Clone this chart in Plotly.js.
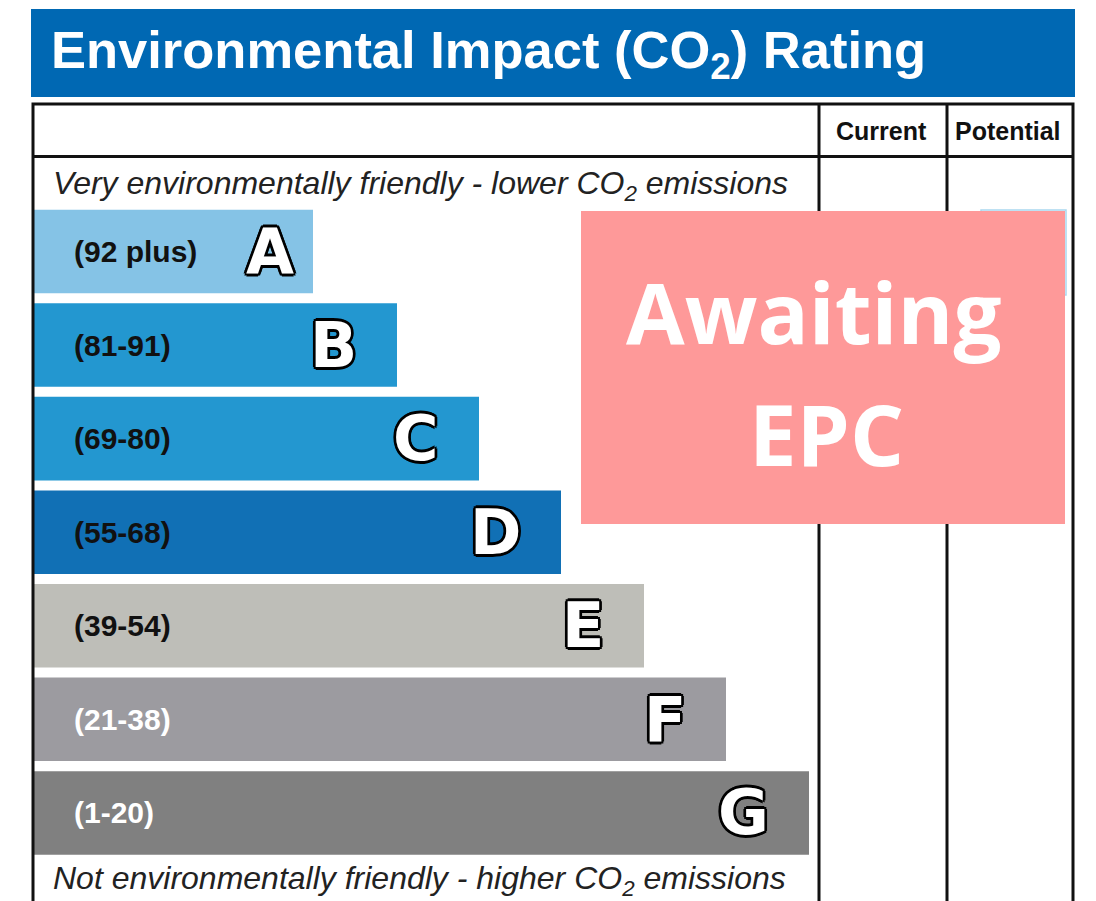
<!DOCTYPE html>
<html>
<head>
<meta charset="utf-8">
<script src="https://cdn.plot.ly/plotly-3.0.1.min.js"></script>
<style>
  html, body { margin: 0; padding: 0; background: #ffffff; }
  #chart { width: 1096px; height: 901px; }
</style>
</head>
<body>
<div id="chart"></div>
<script>
// ---- data ----
const bands = ['A', 'B', 'C', 'D', 'E', 'F', 'G'];
const scoreRanges = ['(92 plus)', '(81-91)', '(69-80)', '(55-68)', '(39-54)', '(21-38)', '(1-20)'];
const barLengths = [280, 364, 446, 528, 611, 693, 776];
const columnHeaders = ['Current', 'Potential'];
const chartTitle = 'Environmental Impact (CO<sub>2</sub>) Rating';
const topNote = 'Very environmentally friendly - lower CO<sub>2</sub> emissions';
const bottomNote = 'Not environmentally friendly - higher CO<sub>2</sub> emissions';
const overlayLines = ['Awaiting', 'EPC'];

// ---- style ----
const barColors = ['#85C3E6', '#2397D0', '#2397D0', '#1170B5', '#BEBEB8', '#9C9BA0', '#808080'];
const labelColors = ['#111111', '#111111', '#111111', '#111111', '#111111', '#ffffff', '#ffffff'];
const W = 1096, H = 901;
const px = v => v / W;
const py = v => 1 - v / H;
const ARIAL = 'Liberation Sans, Arial, sans-serif';
const outline = [
  '-2px -2px 0 #000', '2px -2px 0 #000', '-2px 2px 0 #000', '2px 2px 0 #000',
  '0 -2.7px 0 #000', '0 2.7px 0 #000', '-2.7px 0 0 #000', '2.7px 0 0 #000'
].join(', ');

const trace = {
  type: 'bar',
  orientation: 'h',
  y: bands,
  x: barLengths,
  base: 0,
  marker: { color: barColors, line: { width: 0 } },
  hoverinfo: 'skip',
  showlegend: false
};

const shapes = [
  { type: 'rect', xref: 'paper', yref: 'paper', x0: px(31), x1: px(1075), y0: py(9), y1: py(97),
    fillcolor: '#0068B3', line: { width: 0 }, layer: 'below' },
  { type: 'rect', xref: 'paper', yref: 'paper', x0: px(33), x1: px(1073), y0: py(104), y1: py(910),
    fillcolor: 'rgba(0,0,0,0)', line: { color: '#111', width: 3 }, layer: 'above' },
  { type: 'line', xref: 'paper', yref: 'paper', x0: px(33), x1: px(1073), y0: py(156.5), y1: py(156.5),
    line: { color: '#111', width: 3 }, layer: 'above' },
  { type: 'line', xref: 'paper', yref: 'paper', x0: px(819), x1: px(819), y0: py(104), y1: py(910),
    line: { color: '#111', width: 3 }, layer: 'above' },
  { type: 'line', xref: 'paper', yref: 'paper', x0: px(947), x1: px(947), y0: py(104), y1: py(910),
    line: { color: '#111', width: 3 }, layer: 'above' },
  { type: 'rect', xref: 'paper', yref: 'paper', x0: px(981), x1: px(1066), y0: py(210), y1: py(295),
    fillcolor: 'rgba(0,0,0,0)', line: { color: '#A9D8F0', width: 1.5 }, layer: 'above' },
  { type: 'rect', xref: 'paper', yref: 'paper', x0: px(581), x1: px(1065), y0: py(211), y1: py(524),
    fillcolor: '#FE9999', line: { width: 0 }, layer: 'above' }
];

const annotations = [];
annotations.push({
  xref: 'paper', yref: 'paper', x: px(49), y: py(53), xanchor: 'left', yanchor: 'middle',
  text: chartTitle, showarrow: false,
  font: { family: ARIAL, size: 52.5, color: '#ffffff', weight: 700 }
});
const headerCenters = [881.5, 1008];
columnHeaders.forEach((h, i) => {
  annotations.push({
    xref: 'paper', yref: 'paper', x: px(headerCenters[i]), y: py(131), xanchor: 'center', yanchor: 'middle',
    text: h, showarrow: false,
    font: { family: ARIAL, size: 25, color: '#111', weight: 700 }
  });
});
annotations.push({
  xref: 'paper', yref: 'paper', x: px(51), y: py(185), xanchor: 'left', yanchor: 'middle',
  text: topNote, showarrow: false,
  font: { family: ARIAL, size: 32, color: '#222', style: 'italic' }
});
annotations.push({
  xref: 'paper', yref: 'paper', x: px(51), y: py(880), xanchor: 'left', yanchor: 'middle',
  text: bottomNote, showarrow: false,
  font: { family: ARIAL, size: 32, color: '#222', style: 'italic' }
});
bands.forEach((b, i) => {
  annotations.push({
    xref: 'x', yref: 'y', x: 39, y: i, xanchor: 'left', yanchor: 'middle',
    text: scoreRanges[i], showarrow: false,
    font: { family: ARIAL, size: 30, color: labelColors[i], weight: 700 }
  });
  annotations.push({
    xref: 'x', yref: 'y', x: barLengths[i] - (i === 0 ? 17 : 38), y: i, xanchor: 'right', yanchor: 'middle',
    text: b, showarrow: false,
    font: { family: 'DejaVu Sans, sans-serif', size: 62, color: '#ffffff', weight: 700, shadow: outline }
  });
});
const overlayCenters = [[813, 311], [826, 433]];
overlayLines.forEach((t, i) => {
  annotations.push({
    xref: 'paper', yref: 'paper', x: px(overlayCenters[i][0]), y: py(overlayCenters[i][1]),
    xanchor: 'center', yanchor: 'middle', text: t, showarrow: false,
    font: { family: 'Open Sans, sans-serif', size: 85, color: '#ffffff', weight: 700 }
  });
});

const layout = {
  width: W, height: H,
  margin: { l: 0, r: 0, t: 0, b: 0, pad: 0 },
  paper_bgcolor: '#ffffff',
  plot_bgcolor: 'rgba(0,0,0,0)',
  bargap: 0.107,
  xaxis: { range: [-33, 1063], domain: [0, 1], visible: false, fixedrange: true },
  yaxis: {
    type: 'category', categoryorder: 'array', categoryarray: bands, autorange: 'reversed',
    domain: [(H - 859.7) / H, (H - 204.7) / H], visible: false, fixedrange: true
  },
  shapes: shapes,
  annotations: annotations,
  showlegend: false
};

Plotly.newPlot('chart', [trace], layout, { displayModeBar: false, staticPlot: true });
</script>
</body>
</html>
